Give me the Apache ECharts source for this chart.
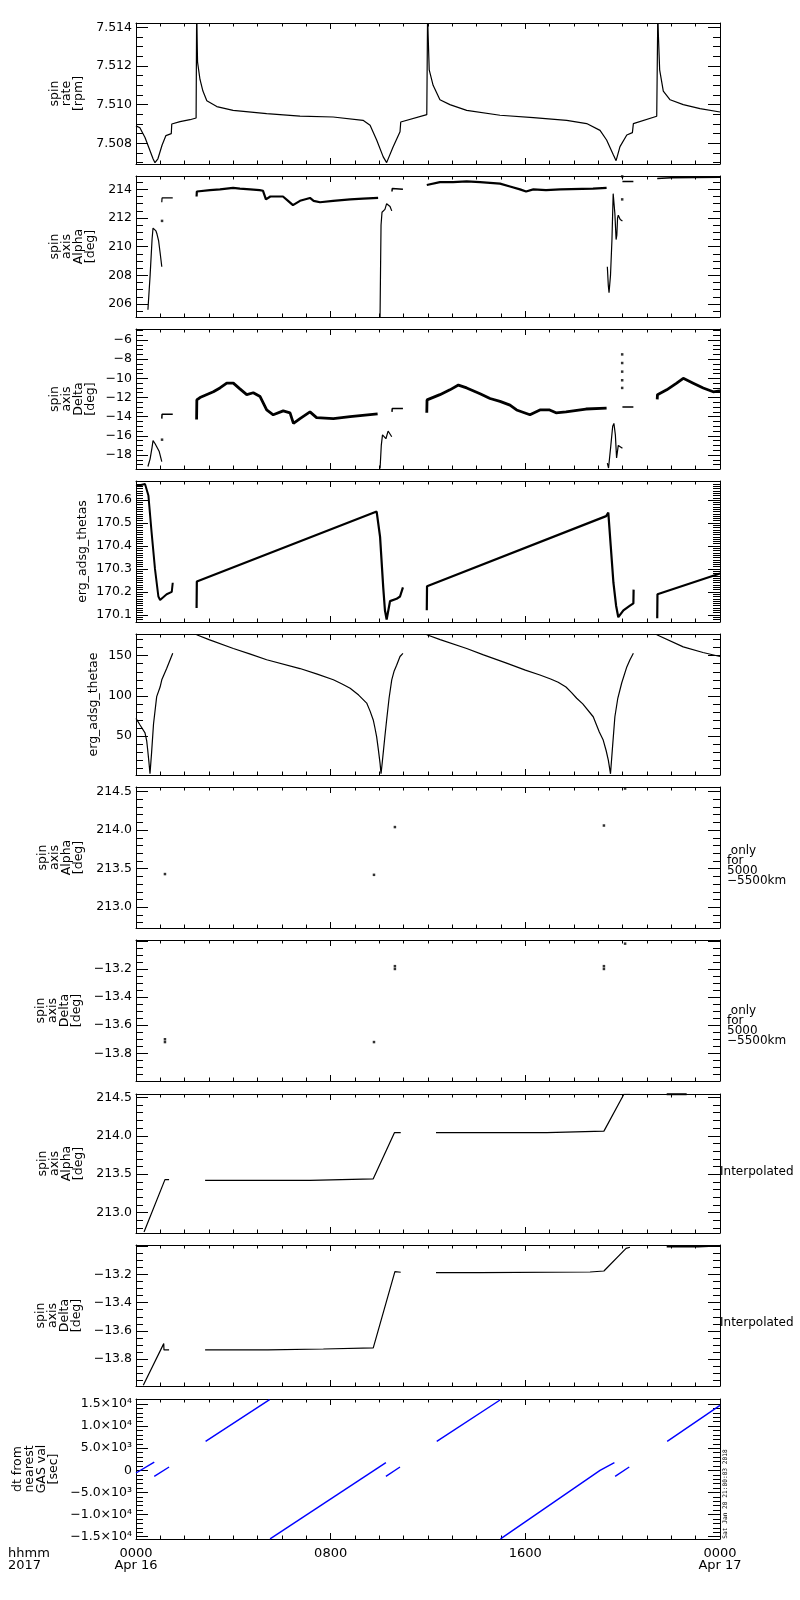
<!DOCTYPE html>
<html><head><meta charset="utf-8">
<script src="https://cdn.jsdelivr.net/npm/echarts@6/dist/echarts.min.js"></script>
<style>html,body{margin:0;padding:0;background:#fff}#c{width:800px;height:1600px}</style>
</head><body><div id="c"></div>
<script>
// ---------- x axis (hours since 2017-04-16 00:00) ----------
const xTickValues = [0, 8, 16, 24];
const xTickLabels = ['0000\nApr 16', '0800', '1600', '0000\nApr 17'];

// ---------- panel 1: spin rate [rpm] ----------
const rateSeg1 = [[0,7.5089],[0.16,7.5088],[0.37,7.5083],[0.58,7.5076],[0.70,7.5072],[0.78,7.5070],[0.90,7.5072],[1.07,7.5079],[1.23,7.5084],[1.45,7.5085],[1.47,7.5090],[1.81,7.50912],[2.22,7.50922],[2.47,7.50931],[2.49,7.5142]];
const rateSeg2 = [[2.50,7.5142],[2.53,7.5122],[2.63,7.5113],[2.75,7.5107],[2.91,7.5102],[3.32,7.5099],[3.99,7.5097],[5.37,7.50953],[6.74,7.50941],[8.10,7.50936],[9.33,7.50919],[9.62,7.50893],[9.89,7.50817],[10.16,7.5073],[10.30,7.5070],[10.56,7.5078],[10.85,7.5086],[10.88,7.5091],[11.95,7.50948],[11.98,7.5142]];
const rateSeg3 = [[11.99,7.5142],[12.05,7.5118],[12.21,7.5110],[12.49,7.51025],[12.90,7.5100],[13.59,7.5097],[14.96,7.50945],[16.33,7.50933],[17.70,7.50919],[18.52,7.50902],[19.07,7.50867],[19.34,7.50817],[19.62,7.50739],[19.73,7.5071],[19.89,7.50783],[20.17,7.50843],[20.40,7.50855],[20.44,7.50902],[21.40,7.5094],[21.44,7.5142]];
const rateSeg4 = [[21.45,7.5142],[21.52,7.5118],[21.67,7.5107],[21.95,7.51025],[22.49,7.5100],[23.18,7.50979],[24.0,7.50962]];

// ---------- panel 2: spin axis Alpha [deg] ----------
const alphaSeg1 = [[0.49,205.6],[0.58,208.0],[0.66,210.5],[0.70,211.3],[0.74,211.4],[0.82,211.1],[0.86,210.9],[0.93,210.4],[0.99,209.6],[1.06,208.6]];
const alphaSeg2 = [[1.06,213.1],[1.07,213.4],[1.51,213.4]];
const alphaSeg3 = [[2.49,213.5],[2.50,213.85],[3.04,213.95],[3.45,214.0],[3.99,214.1],[4.27,214.05],[4.69,214.0],[5.08,213.95],[5.22,213.9],[5.34,213.3],[5.52,213.5],[5.71,213.5],[6.04,213.5],[6.25,213.2],[6.45,212.9],[6.74,213.2],[7.15,213.4],[7.30,213.2],[7.56,213.1],[8.10,213.2],[8.80,213.3],[9.33,213.35],[9.95,213.4]];
const alphaSeg4 = [[10.03,205.1],[10.05,208.5],[10.07,211.5],[10.11,212.4],[10.15,212.3],[10.23,212.6],[10.30,213.0],[10.36,213.1],[10.44,212.8],[10.51,212.5]];
const alphaSeg5 = [[10.52,213.85],[10.53,214.05],[10.97,214.0]];
const alphaSeg6 = [[11.95,214.3],[11.96,214.4],[12.49,214.5],[13.03,214.5],[13.59,214.55],[14.14,214.5],[14.55,214.45],[14.96,214.4],[15.37,214.2],[15.78,214.0],[16.03,213.85],[16.33,214.0],[16.85,213.95],[17.43,214.0],[18.78,214.05],[19.34,214.1]];
const alphaSeg7 = [[19.37,208.6],[19.41,207.3],[19.44,206.8],[19.50,208.0],[19.56,210.5],[19.61,213.7],[19.64,213.6],[19.68,212.3],[19.73,210.5],[19.76,210.8],[19.79,212.0],[19.82,212.2],[19.90,211.9],[19.99,211.8]];
const alphaSeg8 = [[19.99,214.55],[20.44,214.55]];
const alphaSeg9 = [[21.42,214.75],[22.0,214.8],[23.0,214.82],[24.0,214.85]];
const alphaDots = [[1.07,211.8],[19.98,213.3],[19.98,214.9]];

// ---------- panel 3: spin axis Delta [deg] ----------
const deltaSeg1 = [[0.49,-19.2],[0.58,-18.4],[0.66,-17.2],[0.70,-16.5],[0.78,-16.8],[0.86,-17.0],[0.95,-17.6],[1.06,-18.7]];
const deltaSeg2 = [[1.06,-14.2],[1.07,-13.75],[1.51,-13.75]];
const deltaSeg3 = [[2.49,-14.3],[2.50,-12.25],[2.63,-12.0],[3.18,-11.4],[3.45,-11.0],[3.73,-10.5],[4.0,-10.5],[4.27,-11.1],[4.55,-11.7],[4.82,-11.5],[5.10,-11.9],[5.37,-13.3],[5.64,-13.8],[6.05,-13.4],[6.33,-13.6],[6.47,-14.7],[6.74,-14.2],[7.15,-13.5],[7.42,-14.1],[8.11,-14.2],[8.8,-14.0],[9.93,-13.7]];
const deltaSeg4 = [[10.03,-19.4],[10.08,-17.0],[10.13,-15.9],[10.20,-15.8],[10.27,-16.3],[10.36,-15.5],[10.44,-15.4],[10.51,-16.1]];
const deltaSeg5 = [[10.52,-13.5],[10.53,-13.15],[10.97,-13.15]];
const deltaSeg6 = [[11.95,-13.6],[11.96,-12.25],[12.49,-11.7],[12.90,-11.2],[13.25,-10.7],[13.59,-11.0],[14.14,-11.6],[14.55,-12.1],[14.96,-12.4],[15.37,-12.8],[15.64,-13.3],[16.19,-13.8],[16.60,-13.3],[17.0,-13.3],[17.26,-13.6],[17.67,-13.5],[18.49,-13.2],[19.34,-13.1]];
const deltaSeg7 = [[19.37,-18.85],[19.42,-19.36],[19.51,-17.1],[19.59,-15.0],[19.64,-14.7],[19.70,-15.9],[19.75,-18.3],[19.82,-17.0],[19.89,-17.1],[19.99,-17.3]];
const deltaSeg8 = [[19.99,-13.0],[20.44,-13.0]];
const deltaSeg9 = [[21.42,-12.2],[21.43,-11.7],[21.81,-11.2],[22.22,-10.5],[22.49,-10.0],[22.90,-10.5],[23.31,-11.0],[23.72,-11.4],[24.0,-11.3]];
const deltaDots = [[1.07,-16.4],[19.98,-7.5],[19.98,-8.4],[19.98,-9.3],[19.98,-10.2],[19.98,-11.0]];

// ---------- panel 4: erg_adsg_thetas ----------
const thetasSeg1 = [[0,170.66],[0.37,170.67],[0.51,170.62],[0.64,170.46],[0.78,170.30],[0.92,170.18],[0.99,170.165],[1.26,170.19],[1.47,170.20],[1.51,170.24]];
const thetasSeg2 = [[2.49,170.13],[2.50,170.245],[9.89,170.55],[10.03,170.44],[10.16,170.22],[10.23,170.12],[10.30,170.08],[10.44,170.16],[10.71,170.17],[10.85,170.18],[10.97,170.22]];
const thetasSeg3 = [[11.95,170.12],[11.96,170.225],[19.32,170.53],[19.41,170.545],[19.51,170.40],[19.62,170.24],[19.73,170.14],[19.82,170.09],[20.03,170.12],[20.30,170.14],[20.44,170.15],[20.45,170.21]];
const thetasSeg4 = [[21.42,170.085],[21.43,170.19],[24.0,170.28]];

// ---------- panel 5: erg_adsg_thetae ----------
const thetaeSeg1 = [[0,72],[0.16,64],[0.37,54],[0.44,44],[0.48,33],[0.53,18],[0.575,3],[0.64,29],[0.72,65],[0.85,99],[0.99,111],[1.06,120],[1.26,134],[1.51,153]];
const thetaeSeg2 = [[2.49,176],[3.0,170],[4.0,159],[4.7,152],[5.37,145],[6.74,134],[7.45,127],[8.11,120],[8.45,115],[8.8,109.5],[9.15,101],[9.48,91],[9.62,81],[9.75,70],[9.82,60],[9.89,49],[9.96,33],[10.03,16],[10.07,3],[10.12,17],[10.16,29],[10.23,50],[10.30,70],[10.40,97],[10.51,120],[10.61,131],[10.71,138],[10.85,149],[10.97,153]];
const thetaeSeg3 = [[11.95,176],[12.5,170],[13.59,159],[14.28,151],[15.2,141],[16.0,132],[16.6,126],[17.04,121],[17.35,117],[17.67,111],[17.9,104],[18.11,97],[18.36,90],[18.79,74],[19.04,55],[19.2,45],[19.32,32],[19.41,20],[19.50,3],[19.58,35],[19.68,74],[19.8,97],[19.96,116],[20.17,136],[20.30,145],[20.44,153]];
const thetaeSeg4 = [[21.40,176],[22.49,161],[23.3,154],[24.0,149]];

// ---------- panel 6/7: only for 5000-5500km ----------
const alphaOnly = [[1.19,213.43],[9.78,213.42],[10.64,214.04],[19.23,214.06],[20.10,214.54]];
const deltaOnly = [[1.19,-13.72],[1.19,-13.70],[9.78,-13.72],[10.64,-13.18],[10.64,-13.20],[19.23,-13.18],[19.23,-13.20],[20.10,-13.02]];

// ---------- panel 8/9: interpolated ----------
const alphaInterp1 = [[0.33,212.75],[1.19,213.43],[1.36,213.43]];
const alphaInterp2 = [[2.84,213.42],[7.15,213.42],[7.16,213.44],[9.75,213.44],[10.62,214.04],[10.88,214.04]];
const alphaInterp3 = [[12.33,214.04],[16.88,214.04],[16.89,214.06],[19.23,214.06],[20.05,214.54],[20.30,214.54]];
const alphaInterp4 = [[21.81,214.54],[22.63,214.54]];
const deltaInterp1 = [[0.30,-13.985],[1.14,-13.69],[1.15,-13.735],[1.36,-13.735]];
const deltaInterp2 = [[2.84,-13.735],[5.42,-13.735],[5.43,-13.728],[7.70,-13.728],[7.71,-13.72],[9.75,-13.72],[10.64,-13.18],[10.88,-13.185]];
const deltaInterp3 = [[12.33,-13.188],[14.10,-13.188],[14.11,-13.183],[18.66,-13.183],[18.67,-13.176],[19.23,-13.176],[20.14,-13.016],[20.30,-13.008]];
const deltaInterp4 = [[21.81,-13.004],[23.10,-13.004],[23.11,-12.998],[24.0,-12.998]];

// ---------- panel 10: dt from nearest GAS val [sec] ----------
const dtSeg1 = [[0,-600],[0.75,1880]];
const dtSeg2 = [[0.75,-1360],[1.36,750]];
const dtSeg3 = [[2.86,6550],[5.49,16000]];
const dtSeg4 = [[5.51,-15500],[10.27,1740]];
const dtSeg5 = [[10.27,-1360],[10.85,750]];
const dtSeg6 = [[12.36,6550],[14.96,15900]];
const dtSeg7 = [[14.98,-15500],[19.07,0],[19.66,1740]];
const dtSeg8 = [[19.69,-1360],[20.27,750]];
const dtSeg9 = [[21.83,6550],[24.0,14690]];
const dtTickValues = [15000, 10000, 5000, 0, -5000, -10000, -15000];
const dtTickLabels = ['1.5×10⁴','1.0×10⁴','5.0×10³','0','−5.0×10³','−1.0×10⁴','−1.5×10⁴'];

// ---------- axis titles ----------
const nameRate = ['spin','rate','[rpm]'];
const nameAlpha = ['spin','axis','Alpha','[deg]'];
const nameDelta = ['spin','axis','Delta','[deg]'];
const nameDt = ['dt from','nearest','GAS val','[sec]'];

// ---------- layout / style ----------
const FONT = 'DejaVu Sans';
const minus = s => s.replace('-', '−');
const panels = [
  {top:23, height:141, min:7.50693, max:7.51422, split:4, minor:4, name:nameRate, gap:51,
   fmt: v => v.toFixed(3), lines:[[rateSeg1,1.2],[rateSeg2,1.2],[rateSeg3,1.2],[rateSeg4,1.2]]},
  {top:176, height:141, min:205.1, max:214.93, split:5, minor:4, name:nameAlpha, gap:39,
   fmt: v => String(Math.round(v)),
   lines:[[alphaSeg1,1.2],[alphaSeg2,1.2],[alphaSeg3,2.2],[alphaSeg4,1.2],[alphaSeg5,1.5],[alphaSeg6,2.2],[alphaSeg7,1.2],[alphaSeg8,1.5],[alphaSeg9,1.5]],
   dots: alphaDots},
  {top:329, height:140, min:-19.46, max:-4.85, split:7, minor:4, name:nameDelta, gap:39,
   fmt: v => minus(String(Math.round(v))),
   lines:[[deltaSeg1,1.2],[deltaSeg2,1.5],[deltaSeg3,2.8],[deltaSeg4,1.2],[deltaSeg5,1.5],[deltaSeg6,2.8],[deltaSeg7,1.2],[deltaSeg8,1.5],[deltaSeg9,2.8]],
   dots: deltaDots},
  {top:481, height:141, min:170.069, max:170.683, split:6, minor:10, name:['erg_adsg_thetas'], gap:47,
   fmt: v => v.toFixed(1), lines:[[thetasSeg1,2],[thetasSeg2,2.2],[thetasSeg3,2.2],[thetasSeg4,2.2]]},
  {top:634, height:141, min:1.5, max:177, split:4, minor:5, name:['erg_adsg_thetae'], gap:36,
   fmt: v => String(Math.round(v)), lines:[[thetaeSeg1,1.2],[thetaeSeg2,1.2],[thetaeSeg3,1.2],[thetaeSeg4,1.2]]},
  {top:787, height:141, min:212.73, max:214.56, split:4, minor:5, name:nameAlpha, gap:51,
   fmt: v => v.toFixed(1), lines:[], dots: alphaOnly},
  {top:940, height:141, min:-13.997, max:-12.994, split:5, minor:4, name:nameDelta, gap:53,
   fmt: v => v > -13.1 ? '' : minus(v.toFixed(1)), lines:[], dots: deltaOnly},
  {top:1094, height:139, min:212.736, max:214.543, split:4, minor:5, name:nameAlpha, gap:51,
   fmt: v => v.toFixed(1), lines:[[alphaInterp1,1.2],[alphaInterp2,1.2],[alphaInterp3,1.2],[alphaInterp4,2]]},
  {top:1245, height:141, min:-13.99, max:-12.992, split:5, minor:4, name:nameDelta, gap:53,
   fmt: v => v > -13.1 ? '' : minus(v.toFixed(1)), lines:[[deltaInterp1,1.2],[deltaInterp2,1.2],[deltaInterp3,1.2],[deltaInterp4,1.5]]},
  {top:1399, height:140, min:-15520, max:16130, split:6, minor:5, name:nameDt, gap:76,
   fmt: v => { const k = dtTickValues.indexOf(Math.round(v)); return k >= 0 ? dtTickLabels[k] : ''; },
   color:'#0000ff', lines:[[dtSeg1,1.4],[dtSeg2,1.4],[dtSeg3,1.4],[dtSeg4,1.4],[dtSeg5,1.4],[dtSeg6,1.4],[dtSeg7,1.4],[dtSeg8,1.4],[dtSeg9,1.4]]}
];

const N = panels.length;
const grids = [], xAxes = [], yAxes = [], series = [];
const lineBlack = {color:'#000', width:1};
panels.forEach((p, i) => {
  grids.push({left:136, width:584, top:p.top, height:p.height, containLabel:false, outerBoundsMode:'none'});
});
['bottom','top'].forEach((pos, k) => {
  panels.forEach((p, i) => {
    const showLab = (k === 0 && i === N - 1);
    xAxes.push({
      gridIndex:i, type:'value', position:pos, min:0, max:24, interval:8,
      axisLine:{show:true, onZero:false, lineStyle:lineBlack},
      axisTick:{show:true, inside:true, length:6, lineStyle:lineBlack},
      minorTick:{show:true, splitNumber:8, length:3.5, lineStyle:lineBlack},
      splitLine:{show:false}, minorSplitLine:{show:false},
      axisLabel:{show:showLab, color:'#000', fontFamily:FONT, fontSize:13, lineHeight:12, margin:9,
        showMinLabel:true, showMaxLabel:true,
        formatter: v => { const j = xTickValues.indexOf(v); return j >= 0 ? xTickLabels[j] : ''; }}
    });
  });
});
['left','right'].forEach((pos, k) => {
  panels.forEach((p, i) => {
    yAxes.push({
      gridIndex:i, type:'value', position:pos, min:p.min, max:p.max, splitNumber:p.split,
      axisLine:{show:true, onZero:false, lineStyle:lineBlack},
      axisTick:{show:true, inside:true, length:12, lineStyle:lineBlack},
      minorTick:{show:true, splitNumber:p.minor, length:7, lineStyle:lineBlack},
      splitLine:{show:false}, minorSplitLine:{show:false},
      axisLabel:{show:k === 0, color:'#000', fontFamily:FONT, fontSize:12.5, margin:4,
        showMinLabel:false, showMaxLabel:false, hideOverlap:false, formatter:p.fmt}
    });
  });
});
panels.forEach((p, i) => {
  const col = p.color || '#000';
  p.lines.forEach(([d, w]) => series.push({
    type:'line', xAxisIndex:i, yAxisIndex:i, data:d, symbol:'none', showSymbol:false,
    lineStyle:{color:col, width:w}, itemStyle:{color:col}, silent:true, clip:true, z:3
  }));
  if (p.dots) series.push({
    type:'scatter', xAxisIndex:i, yAxisIndex:i, data:p.dots, symbol:'rect', symbolSize:[2.5,2.5],
    itemStyle:{color:col}, silent:true, clip:true, z:3
  });
});

const txt = {fill:'#000', fontFamily:FONT};
const graphic = [
  {type:'text', x:8, y:1548, style:Object.assign({text:'hhmm\n2017', fontSize:13, lineHeight:12, align:'left', verticalAlign:'top'}, txt)},
  {type:'text', x:727, y:866, style:Object.assign({text:' only\nfor\n5000\n−5500km', fontSize:12, lineHeight:10, align:'left', verticalAlign:'middle'}, txt)},
  {type:'text', x:727, y:1026, style:Object.assign({text:' only\nfor\n5000\n−5500km', fontSize:12, lineHeight:10, align:'left', verticalAlign:'middle'}, txt)},
  {type:'text', x:720, y:1172, style:Object.assign({text:'Interpolated', fontSize:12, align:'left', verticalAlign:'middle'}, txt)},
  {type:'text', x:720, y:1323, style:Object.assign({text:'Interpolated', fontSize:12, align:'left', verticalAlign:'middle'}, txt)},
  {type:'text', x:725, y:1494, rotation:Math.PI/2, style:{text:'Sat Jan 20 21:00:03 2018', fill:'#000', fontFamily:'DejaVu Sans Mono', fontSize:6.2, align:'center', verticalAlign:'middle'}}
];
// rotated multi-line y-axis titles, one column per line
panels.forEach(p => {
  const n = p.name.length, right = 136 - p.gap, yc = p.top + p.height / 2;
  p.name.forEach((line, j) => {
    graphic.push({type:'text', x: right - (n - 1 - j) * 12 - 6, y: yc, rotation: Math.PI / 2,
      style: Object.assign({text: line, fontSize: 12.5, align: 'center', verticalAlign: 'middle'}, txt)});
  });
});

const chart = echarts.init(document.getElementById('c'), null, {renderer:'canvas'});
chart.setOption({
  animation:false, backgroundColor:'#fff',
  grid:grids, xAxis:xAxes, yAxis:yAxes, series:series, graphic:graphic
});
</script></body></html>
